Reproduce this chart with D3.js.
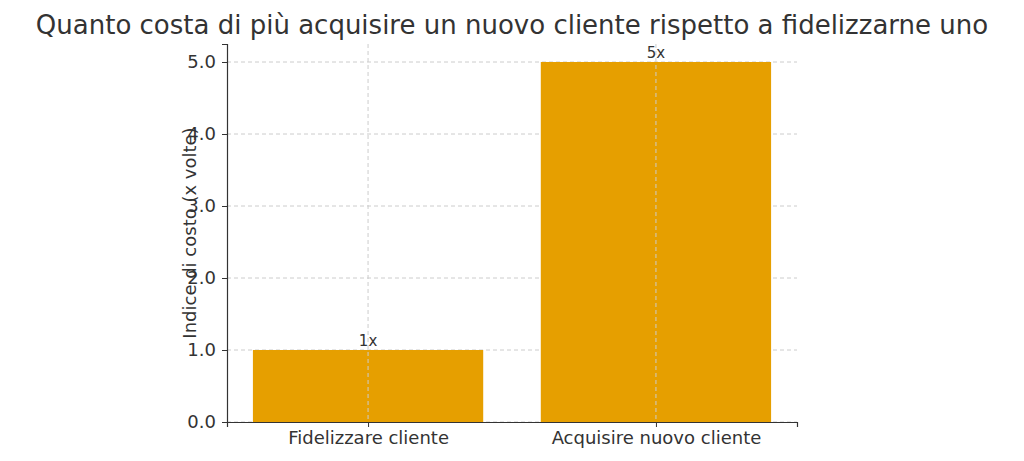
<!DOCTYPE html>
<html>
<head>
<meta charset="utf-8">
<script src="https://cdn.jsdelivr.net/npm/d3@7"></script>
<style>
body { margin: 0; background: #fff; }
text { font-family: "DejaVu Sans", sans-serif; fill: #333; }
</style>
</head>
<body>
<div id="chart"></div>
<script>
// data
var categories = ["Fidelizzare cliente", "Acquisire nuovo cliente"];
var values = [1, 5];
var barLabels = ["1x", "5x"];
var yTicks = [0, 1, 2, 3, 4, 5];

var margin = { top: 44, right: 227, bottom: 39, left: 227 };
var width = 1024 - margin.left - margin.right;
var height = 461 - margin.top - margin.bottom;

var svg = d3.select("#chart").append("svg")
	.attr("width", 1024)
	.attr("height", 461);

svg.append("text")
	.attr("x", 512).attr("y", 34)
	.attr("text-anchor", "middle")
	.style("font-size", "26px")
	.text("Quanto costa di più acquisire un nuovo cliente rispetto a fidelizzarne uno");

var g = svg.append("g")
	.attr("transform", "translate(" + margin.left + "," + margin.top + ")");

var x = d3.scaleLinear().domain([-0.49, 1.49]).range([0, width]);
var y = d3.scaleLinear().domain([0, 5.25]).range([height, 0]);

// grid
g.selectAll(".hgrid").data(yTicks).enter().append("line")
	.attr("x1", 0).attr("x2", width)
	.attr("y1", function(d) { return y(d); })
	.attr("y2", function(d) { return y(d); })
	.attr("stroke", "#ccc").attr("stroke-dasharray", "4,3");

// bars
g.selectAll(".bar").data(values).enter().append("rect")
	.attr("x", function(d, i) { return x(i - 0.4); })
	.attr("width", x(0.8) - x(0))
	.attr("y", function(d) { return y(d); })
	.attr("height", function(d) { return height - y(d); })
	.attr("fill", "#E69F00");

g.selectAll(".vgrid").data(categories).enter().append("line")
	.attr("x1", function(d, i) { return x(i); })
	.attr("x2", function(d, i) { return x(i); })
	.attr("y1", 0).attr("y2", height)
	.attr("stroke", "#ccc").attr("stroke-dasharray", "4,3");

g.selectAll(".lbl").data(values).enter().append("text")
	.attr("x", function(d, i) { return x(i); })
	.attr("y", function(d) { return y(d) - 4; })
	.attr("text-anchor", "middle")
	.style("font-size", "15px")
	.text(function(d, i) { return barLabels[i]; });

// axes
var yAxis = g.append("g").call(d3.axisLeft(y).tickValues(yTicks).tickSize(5).tickPadding(6));
var xAxis = g.append("g")
	.attr("transform", "translate(0," + height + ")")
	.call(d3.axisBottom(x).tickValues([0, 1]).tickFormat(function(d) { return categories[d]; }).tickSize(5).tickPadding(4));
[yAxis, xAxis].forEach(function(a) {
	a.selectAll("text").style("font-size", "18px").attr("fill", "#333");
	a.selectAll("line, path").attr("stroke", "#333");
	a.select(".domain").attr("stroke-width", 1.2);
});

svg.append("text")
	.attr("transform", "translate(196," + (margin.top + height / 2) + ") rotate(-90)")
	.attr("text-anchor", "middle")
	.style("font-size", "18px")
	.text("Indice di costo (x volte)");
</script>
</body>
</html>
